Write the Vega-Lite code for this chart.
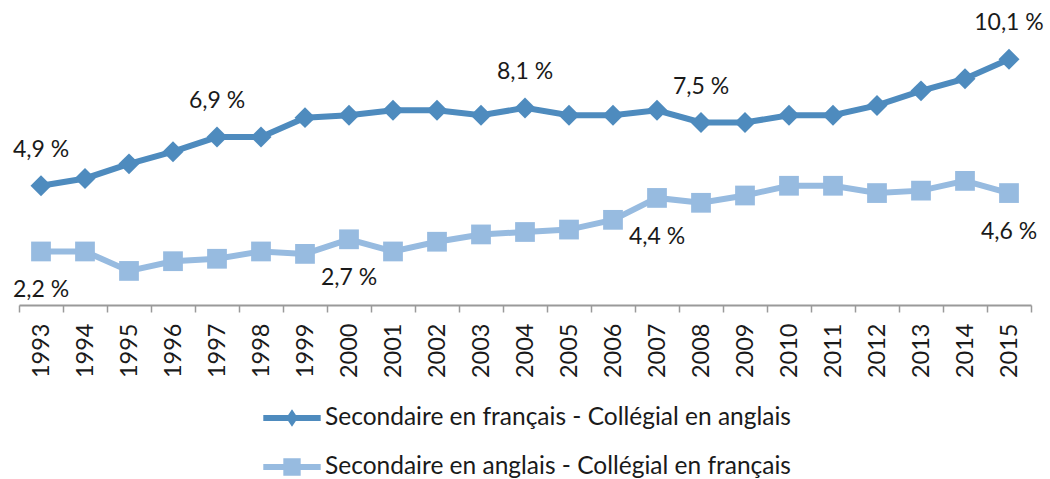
{
  "$schema": "https://vega.github.io/schema/vega-lite/v6.json",
  "width": 1012,
  "height": 292,
  "autosize": {"type": "none"},
  "padding": {"left": 19, "top": 13, "right": 19, "bottom": 174},
  "background": "white",
  "config": {
    "view": {"stroke": null},
    "font": "Lato",
    "text": {"font": "Lato"}
  },
  "data": {
    "values": [
      {"annee": "1993", "serie": "Secondaire en français - Collégial en anglais", "valeur": 4.9, "etiquette": "4,9 %"},
      {"annee": "1994", "serie": "Secondaire en français - Collégial en anglais", "valeur": 5.2, "etiquette": ""},
      {"annee": "1995", "serie": "Secondaire en français - Collégial en anglais", "valeur": 5.8, "etiquette": ""},
      {"annee": "1996", "serie": "Secondaire en français - Collégial en anglais", "valeur": 6.3, "etiquette": ""},
      {"annee": "1997", "serie": "Secondaire en français - Collégial en anglais", "valeur": 6.9, "etiquette": "6,9 %"},
      {"annee": "1998", "serie": "Secondaire en français - Collégial en anglais", "valeur": 6.9, "etiquette": ""},
      {"annee": "1999", "serie": "Secondaire en français - Collégial en anglais", "valeur": 7.7, "etiquette": ""},
      {"annee": "2000", "serie": "Secondaire en français - Collégial en anglais", "valeur": 7.8, "etiquette": ""},
      {"annee": "2001", "serie": "Secondaire en français - Collégial en anglais", "valeur": 8.0, "etiquette": ""},
      {"annee": "2002", "serie": "Secondaire en français - Collégial en anglais", "valeur": 8.0, "etiquette": ""},
      {"annee": "2003", "serie": "Secondaire en français - Collégial en anglais", "valeur": 7.8, "etiquette": ""},
      {"annee": "2004", "serie": "Secondaire en français - Collégial en anglais", "valeur": 8.1, "etiquette": "8,1 %"},
      {"annee": "2005", "serie": "Secondaire en français - Collégial en anglais", "valeur": 7.8, "etiquette": ""},
      {"annee": "2006", "serie": "Secondaire en français - Collégial en anglais", "valeur": 7.8, "etiquette": ""},
      {"annee": "2007", "serie": "Secondaire en français - Collégial en anglais", "valeur": 8.0, "etiquette": ""},
      {"annee": "2008", "serie": "Secondaire en français - Collégial en anglais", "valeur": 7.5, "etiquette": "7,5 %"},
      {"annee": "2009", "serie": "Secondaire en français - Collégial en anglais", "valeur": 7.5, "etiquette": ""},
      {"annee": "2010", "serie": "Secondaire en français - Collégial en anglais", "valeur": 7.8, "etiquette": ""},
      {"annee": "2011", "serie": "Secondaire en français - Collégial en anglais", "valeur": 7.8, "etiquette": ""},
      {"annee": "2012", "serie": "Secondaire en français - Collégial en anglais", "valeur": 8.2, "etiquette": ""},
      {"annee": "2013", "serie": "Secondaire en français - Collégial en anglais", "valeur": 8.8, "etiquette": ""},
      {"annee": "2014", "serie": "Secondaire en français - Collégial en anglais", "valeur": 9.3, "etiquette": ""},
      {"annee": "2015", "serie": "Secondaire en français - Collégial en anglais", "valeur": 10.1, "etiquette": "10,1 %"},
      {"annee": "1993", "serie": "Secondaire en anglais - Collégial en français", "valeur": 2.2, "etiquette": "2,2 %"},
      {"annee": "1994", "serie": "Secondaire en anglais - Collégial en français", "valeur": 2.2, "etiquette": ""},
      {"annee": "1995", "serie": "Secondaire en anglais - Collégial en français", "valeur": 1.4, "etiquette": ""},
      {"annee": "1996", "serie": "Secondaire en anglais - Collégial en français", "valeur": 1.8, "etiquette": ""},
      {"annee": "1997", "serie": "Secondaire en anglais - Collégial en français", "valeur": 1.9, "etiquette": ""},
      {"annee": "1998", "serie": "Secondaire en anglais - Collégial en français", "valeur": 2.2, "etiquette": ""},
      {"annee": "1999", "serie": "Secondaire en anglais - Collégial en français", "valeur": 2.1, "etiquette": ""},
      {"annee": "2000", "serie": "Secondaire en anglais - Collégial en français", "valeur": 2.7, "etiquette": "2,7 %"},
      {"annee": "2001", "serie": "Secondaire en anglais - Collégial en français", "valeur": 2.2, "etiquette": ""},
      {"annee": "2002", "serie": "Secondaire en anglais - Collégial en français", "valeur": 2.6, "etiquette": ""},
      {"annee": "2003", "serie": "Secondaire en anglais - Collégial en français", "valeur": 2.9, "etiquette": ""},
      {"annee": "2004", "serie": "Secondaire en anglais - Collégial en français", "valeur": 3.0, "etiquette": ""},
      {"annee": "2005", "serie": "Secondaire en anglais - Collégial en français", "valeur": 3.1, "etiquette": ""},
      {"annee": "2006", "serie": "Secondaire en anglais - Collégial en français", "valeur": 3.5, "etiquette": ""},
      {"annee": "2007", "serie": "Secondaire en anglais - Collégial en français", "valeur": 4.4, "etiquette": "4,4 %"},
      {"annee": "2008", "serie": "Secondaire en anglais - Collégial en français", "valeur": 4.2, "etiquette": ""},
      {"annee": "2009", "serie": "Secondaire en anglais - Collégial en français", "valeur": 4.5, "etiquette": ""},
      {"annee": "2010", "serie": "Secondaire en anglais - Collégial en français", "valeur": 4.9, "etiquette": ""},
      {"annee": "2011", "serie": "Secondaire en anglais - Collégial en français", "valeur": 4.9, "etiquette": ""},
      {"annee": "2012", "serie": "Secondaire en anglais - Collégial en français", "valeur": 4.6, "etiquette": ""},
      {"annee": "2013", "serie": "Secondaire en anglais - Collégial en français", "valeur": 4.7, "etiquette": ""},
      {"annee": "2014", "serie": "Secondaire en anglais - Collégial en français", "valeur": 5.1, "etiquette": ""},
      {"annee": "2015", "serie": "Secondaire en anglais - Collégial en français", "valeur": 4.6, "etiquette": "4,6 %"}
    ]
  },
  "encoding": {
    "x": {
      "field": "annee",
      "type": "ordinal",
      "scale": {"type": "band", "paddingInner": 0, "paddingOuter": 0},
      "axis": {
        "title": null,
        "labelAngle": -90,
        "labelFontSize": 23.5,
        "labelFont": "Lato",
        "labelColor": "#1a1a1a",
        "labelPadding": 11,
        "tickBand": "extent",
        "tickSize": 7,
        "tickColor": "#9a9a9a",
        "tickWidth": 1.5,
        "domainColor": "#9a9a9a",
        "domainWidth": 2,
        "grid": false
      }
    },
    "y": {
      "field": "valeur",
      "type": "quantitative",
      "scale": {"domain": [0, 12], "nice": false, "zero": true},
      "axis": null
    }
  },
  "layer": [
    {
      "mark": {"type": "point", "filled": true, "opacity": 0},
      "encoding": {
        "color": {
          "field": "serie",
          "type": "nominal",
          "scale": {
            "domain": ["Secondaire en français - Collégial en anglais", "Secondaire en anglais - Collégial en français"],
            "range": ["#4E8BBE", "#97BBE0"]
          },
          "legend": {
            "title": null,
            "orient": "none",
            "legendX": 259,
            "legendY": 391,
            "direction": "vertical",
            "padding": 0,
            "symbolSize": 784,
            "symbolStrokeWidth": 0,
            "symbolOpacity": 1,
            "labelFontSize": 24.5,
            "labelFont": "Lato",
            "labelColor": "#1a1a1a",
            "labelOffset": 19,
            "labelLimit": 0,
            "rowPadding": 23
          }
        },
        "shape": {
          "field": "serie",
          "type": "nominal",
          "scale": {
            "domain": ["Secondaire en français - Collégial en anglais", "Secondaire en anglais - Collégial en français"],
            "range": ["M-2.05,-0.21H2.05V0.21H-2.05Z M0,-0.62L0.42,0L0,0.62L-0.42,0Z", "M-2.05,-0.21H2.05V0.21H-2.05Z M-0.62,-0.62H0.62V0.62H-0.62Z"]
          },
          "legend": {
            "title": null,
            "orient": "none",
            "legendX": 259,
            "legendY": 391,
            "direction": "vertical",
            "padding": 0,
            "symbolSize": 784,
            "symbolStrokeWidth": 0,
            "symbolOpacity": 1,
            "labelFontSize": 24.5,
            "labelFont": "Lato",
            "labelColor": "#1a1a1a",
            "labelOffset": 19,
            "labelLimit": 0,
            "rowPadding": 23
          }
        }
      }
    },
    {
      "mark": {"type": "line", "strokeWidth": 6},
      "encoding": {
        "color": {
          "field": "serie",
          "type": "nominal",
          "legend": null
        }
      }
    },
    {
      "transform": [{"filter": "datum.serie == 'Secondaire en français - Collégial en anglais'"}],
      "mark": {"type": "point", "shape": "diamond", "filled": true, "size": 440, "opacity": 1, "color": "#4E8BBE"}
    },
    {
      "transform": [{"filter": "datum.serie == 'Secondaire en anglais - Collégial en français'"}],
      "mark": {"type": "point", "shape": "square", "filled": true, "size": 390, "opacity": 1, "color": "#97BBE0"}
    },
    {
      "transform": [{"filter": "datum.serie == 'Secondaire en français - Collégial en anglais' && datum.etiquette != ''"}],
      "mark": {"type": "text", "dy": -36, "fontSize": 23, "font": "Lato", "color": "#1a1a1a", "baseline": "middle", "align": "center"},
      "encoding": {"text": {"field": "etiquette"}}
    },
    {
      "transform": [{"filter": "datum.serie == 'Secondaire en anglais - Collégial en français' && datum.etiquette != ''"}],
      "mark": {"type": "text", "dy": 39, "fontSize": 23, "font": "Lato", "color": "#1a1a1a", "baseline": "middle", "align": "center"},
      "encoding": {"text": {"field": "etiquette"}}
    }
  ]
}
